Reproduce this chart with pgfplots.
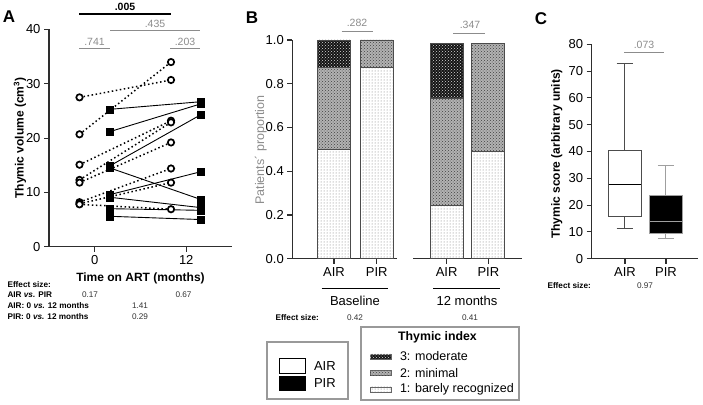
\documentclass[border=0pt]{standalone}
\usepackage{fontspec}
\setmainfont{Liberation Sans}
\usepackage{pgfplots}
\pgfplotsset{compat=1.18}
\usetikzlibrary{patterns}

\definecolor{anngray}{HTML}{8C8C8C}
\definecolor{axgray}{HTML}{2E2E2E}
\newcommand{\fs}[1]{\fontsize{#1}{#1}\selectfont}

\tikzset{
  lvl1/.style={fill=white, postaction={pattern=dots, pattern color=gray!90!black}},
  lvl2/.style={fill=gray!60, postaction={pattern=crosshatch dots, pattern color=black!75}},
  lvl3/.style={fill=black!92, postaction={pattern=crosshatch dots, pattern color=white!70!gray}},
  airline/.style={black, line width=1.5pt, dash pattern=on 1.5pt off 2.6pt},
  pirline/.style={black, line width=0.9pt},
  ann/.style={anngray, line width=0.9pt},
  boxA/.style={draw=black!70, line width=1pt},
  boxP/.style={draw=gray!75, line width=1pt},
}

\pgfplotsset{
  every axis/.append style={
    scale only axis, clip=false,
    axis line style={axgray, line width=1.1pt},
    tick style={axgray, line width=1.1pt},
    tick align=outside, major tick length=5pt,
    ticklabel style={font=\fs{13}},
    /pgf/number format/assume math mode=true,
  },
}

\begin{document}
\begin{tikzpicture}[x=1pt, y=1pt]
\path[use as bounding box] (0,0) rectangle (703,404);

% ---------- A: thymic volume ----------
\begin{axis}[at={(49pt,157.3pt)}, anchor=south west, width=183pt, height=217.2pt,
  axis lines*=left, xmin=-6, xmax=18, ymin=0, ymax=40,
  xtick={0,12}, ytick={0,10,20,30,40}]
% AIR, dotted
\addplot[airline] coordinates {(-2,27.5) (10,30.7)};
\addplot[airline] coordinates {(-2,20.7) (10,34.0)};
\addplot[airline] coordinates {(-2,15.1) (10,23.2)};
\addplot[airline] coordinates {(-2,12.3) (10,22.9)};
\addplot[airline] coordinates {(-2,11.8) (10,19.2)};
\addplot[airline] coordinates {(-2,8.2) (10,14.4)};
\addplot[airline] coordinates {(-2,7.9) (10,11.8)};
\addplot[airline] coordinates {(-2,7.8) (10,6.9)};
% PIR, solid
\addplot[pirline] coordinates {(2,25.3) (13.9,26.7)};
\addplot[pirline] coordinates {(2,21.2) (13.9,26.3)};
\addplot[pirline] coordinates {(2,14.9) (13.9,24.3)};
\addplot[pirline] coordinates {(2,14.5) (13.9,8.7)};
\addplot[pirline] coordinates {(2,9.6) (13.9,13.8)};
\addplot[pirline] coordinates {(2,9.1) (13.9,7.2)};
\addplot[pirline] coordinates {(2,7.0) (13.9,6.7)};
\addplot[pirline] coordinates {(2,5.6) (13.9,5.0)};
% marks
\addplot[only marks, mark=*, mark size=3.2pt,
  mark options={fill=white, draw=black, line width=1.7pt}] coordinates {
  (-2,27.5) (-2,20.7) (-2,15.1) (-2,12.3) (-2,11.8) (-2,8.2) (-2,7.9) (-2,7.8)
  (10,30.7) (10,34.0) (10,23.2) (10,22.9) (10,19.2) (10,14.4) (10,11.8) (10,6.9)};
\addplot[only marks, mark=square*, mark size=3.6pt, black] coordinates {
  (2,25.3) (2,21.2) (2,14.9) (2,14.5) (2,9.6) (2,9.1) (2,7.0) (2,5.6)
  (13.9,26.7) (13.9,26.3) (13.9,24.3) (13.9,8.7) (13.9,13.8) (13.9,7.2) (13.9,6.7) (13.9,5.0)};
\end{axis}

% ---------- B: thymic index ----------
\begin{axis}[at={(292.3pt,145.3pt)}, anchor=south west, width=104.7pt, height=218.7pt,
  axis lines*=left, xmin=-0.977, xmax=1.475, ymin=0, ymax=1,
  ybar stacked, bar width=33pt,
  xtick={0,1}, xticklabels={AIR,PIR},
  ytick={0,0.2,0.4,0.6,0.8,1.0},
  yticklabel style={/pgf/number format/.cd, fixed, fixed zerofill, precision=1}]
\addplot[lvl1, draw=black!70, line width=0.8pt] coordinates {(0,0.5) (1,0.875)};
\addplot[lvl2, draw=black!70, line width=0.8pt] coordinates {(0,0.375) (1,0.125)};
\addplot[lvl3, draw=black!70, line width=0.8pt] coordinates {(0,0.125) (1,0)};
\end{axis}

\begin{axis}[at={(413.3pt,145.3pt)}, anchor=south west, width=108.4pt, height=218.7pt,
  axis x line*=bottom, axis y line=none, xmin=-0.8, xmax=1.8, ymin=0, ymax=1,
  ybar stacked, bar width=33pt,
  xtick={0,1}, xticklabels={AIR,PIR}]
\addplot[lvl1, draw=black!70, line width=0.8pt] coordinates {(0,0.245) (1,0.49)};
\addplot[lvl2, draw=black!70, line width=0.8pt] coordinates {(0,0.49) (1,0.495)};
\addplot[lvl3, draw=black!70, line width=0.8pt] coordinates {(0,0.25) (1,0)};
\end{axis}

% ---------- C: thymic score ----------
\begin{axis}[at={(591.7pt,145.3pt)}, anchor=south west, width=106.3pt, height=214.4pt,
  axis lines*=left, xmin=0.19, xmax=2.78, ymin=0, ymax=80,
  xtick={1,2}, xticklabels={AIR,PIR}, ytick={0,10,20,30,40,50,60,70,80}]
% AIR: whiskers, box, median
\addplot[boxA] coordinates {(1,40.4) (1,72.9)};
\addplot[boxA] coordinates {(0.8,72.9) (1.2,72.9)};
\addplot[boxA] coordinates {(1,15.9) (1,11.2)};
\addplot[boxA] coordinates {(0.8,11.2) (1.2,11.2)};
\addplot[boxA, fill=white] coordinates {(0.6,15.9) (1.4,15.9) (1.4,40.4) (0.6,40.4)} -- cycle;
\addplot[black, line width=1pt] coordinates {(0.6,27.5) (1.4,27.5)};
% PIR
\addplot[boxP] coordinates {(2,23.5) (2,34.6)};
\addplot[boxP] coordinates {(1.8,34.6) (2.2,34.6)};
\addplot[boxP] coordinates {(2,9.5) (2,7.5)};
\addplot[boxP] coordinates {(1.8,7.5) (2.2,7.5)};
\addplot[boxP, fill=black] coordinates {(1.6,9.5) (2.4,9.5) (2.4,23.5) (1.6,23.5)} -- cycle;
\addplot[boxP] coordinates {(1.6,13.9) (2.4,13.9)};
\end{axis}

% ---------- panel letters and axis titles ----------
\node[font=\bfseries\fs{17}] at (9,387) {A};
\node[font=\bfseries\fs{17}] at (252,386) {B};
\node[font=\bfseries\fs{17}] at (541,385) {C};

\node[rotate=90, font=\bfseries\fs{12}] at (20,266) {Thymic volume (cm\textsuperscript{3})};
\node[font=\bfseries\fs{12}] at (140.5,125.5) {Time on ART (months)};
\node[rotate=90, font=\fs{12.5}, text=anngray] at (260.7,254) {Patients´ proportion};
\node[rotate=90, font=\bfseries\fs{12}] at (556.7,250) {Thymic score (arbitrary units)};

% ---------- p values ----------
\draw[black, line width=1.1pt] (79,390) -- (171,390);
\node[font=\bfseries\fs{10.5}, anchor=base] at (125,393) {.005};
\draw[ann] (110,373.7) -- (200,373.7);
\node[font=\fs{10.5}, text=anngray, anchor=base] at (155,376.5) {.435};
\draw[ann] (79,355.7) -- (110,355.7);
\node[font=\fs{10.5}, text=anngray, anchor=base] at (94.5,358.5) {.741};
\draw[ann] (170,355.7) -- (200,355.7);
\node[font=\fs{10.5}, text=anngray, anchor=base] at (185,358.5) {.203};

\draw[ann] (341.7,372.3) -- (372.7,372.3);
\node[font=\fs{10.5}, text=anngray, anchor=base] at (357,377) {.282};
\draw[ann] (453.3,370.3) -- (485,370.3);
\node[font=\fs{10.5}, text=anngray, anchor=base] at (470,375) {.347};
\draw[ann] (624,351.3) -- (664,351.3);
\node[font=\fs{10.5}, text=anngray, anchor=base] at (644,355) {.073};

% ---------- group labels of B ----------
\draw[black, line width=0.9pt] (321.7,115.5) -- (388.3,115.5);
\node[font=\fs{13}] at (355,103) {Baseline};
\draw[black, line width=0.9pt] (433,115.5) -- (500,115.5);
\node[font=\fs{13}] at (467,103) {12 months};

% ---------- effect sizes ----------
\begin{scope}[every node/.style={font=\fs{8.2}}]
\node[anchor=west, font=\bfseries\fs{8.2}] at (4,119.5) {Effect size:};
\node[anchor=west, font=\bfseries\fs{8.2}] at (4,109) {AIR \textit{vs.} PIR};
\node[text=black!80] at (90,109) {0.17};
\node[text=black!80] at (183.5,109) {0.67};
\node[anchor=west, font=\bfseries\fs{8.2}] at (4,98.3) {AIR: 0 \textit{vs.} 12 months};
\node[text=black!80] at (140,98.3) {1.41};
\node[anchor=west, font=\bfseries\fs{8.2}] at (4,87.3) {PIR: 0 \textit{vs.} 12 months};
\node[text=black!80] at (140,87.3) {0.29};

\node[anchor=west, font=\bfseries\fs{8.2}] at (272,86) {Effect size:};
\node[text=black!80] at (355,86) {0.42};
\node[text=black!80] at (470,86) {0.41};

\node[anchor=west, font=\bfseries\fs{8.2}] at (544,118.3) {Effect size:};
\node[text=black!80] at (645,118.3) {0.97};
\end{scope}

% ---------- legends ----------
\draw[gray!80, line width=2pt] (267.3,4.7) rectangle (348.3,61.7);
\draw[black, line width=0.7pt, fill=white] (279.3,31) rectangle (305,45.5);
\draw[black, line width=0.7pt, fill=black] (279.3,13.5) rectangle (305,28);
\node[anchor=west, font=\fs{13}] at (310.5,37.5) {AIR};
\node[anchor=west, font=\fs{13}] at (310.5,21) {PIR};

\draw[gray!80, line width=2pt] (360.7,4) rectangle (519.3,77.3);
\node[font=\bfseries\fs{12.3}] at (437.5,67) {Thymic index};
\draw[lvl3, draw=black!60, line width=0.4pt] (370,45.2) rectangle (391,50.2);
\draw[lvl2, draw=black!60, line width=0.4pt] (370,28.8) rectangle (391,33.8);
\draw[lvl1, draw=black!60, line width=0.4pt] (370,12.2) rectangle (391,17.2);
\node[anchor=west, font=\fs{12.5}] at (396.5,47.7) {3: moderate};
\node[anchor=west, font=\fs{12.5}] at (396.5,31.3) {2: minimal};
\node[anchor=west, font=\fs{12.5}] at (396.5,14.7) {1: barely recognized};
\end{tikzpicture}
\end{document}
